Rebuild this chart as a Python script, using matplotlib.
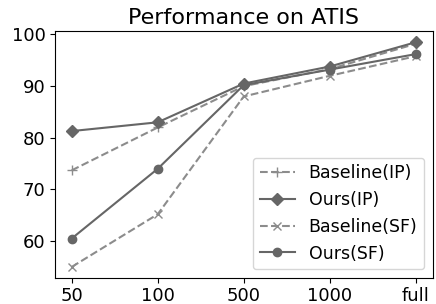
import numpy as np
import matplotlib
matplotlib.use('Agg')
import matplotlib.pyplot as plt

sizes = ['50', '100', '500', '1000', 'full']
baseline_ip = [73.7, 82.0, 90.0, 93.3, 98.2]
ours_ip = [81.3, 83.0, 90.5, 93.8, 98.5]
baseline_sf = [55.0, 65.2, 88.0, 92.0, 95.8]
ours_sf = [60.5, 74.0, 90.2, 93.2, 96.2]

x = np.arange(len(sizes))

fig, ax = plt.subplots(figsize=(4.36, 3.04), dpi=100)
ax.plot(x, baseline_ip, '--', marker='+', color='#8c8c8c', markersize=7, lw=1.5, label='Baseline(IP)')
ax.plot(x, ours_ip, '-', marker='D', color='#666666', markersize=6, lw=1.5, label='Ours(IP)')
ax.plot(x, baseline_sf, '--', marker='x', color='#8c8c8c', markersize=6, lw=1.5, label='Baseline(SF)')
ax.plot(x, ours_sf, '-', marker='o', color='#666666', markersize=6, lw=1.5, label='Ours(SF)')

ax.set_xticks(x)
ax.set_xticklabels(sizes)
ax.tick_params(labelsize=13, pad=3)
ax.set_yticks([60, 70, 80, 90, 100])
ax.set_title('Performance on ATIS', fontsize=16, pad=5)
ax.legend(fontsize=12.5, loc='lower right')

fig.subplots_adjust(left=0.125, right=0.993, top=0.898, bottom=0.085)
fig.savefig('out.png', dpi=100)
